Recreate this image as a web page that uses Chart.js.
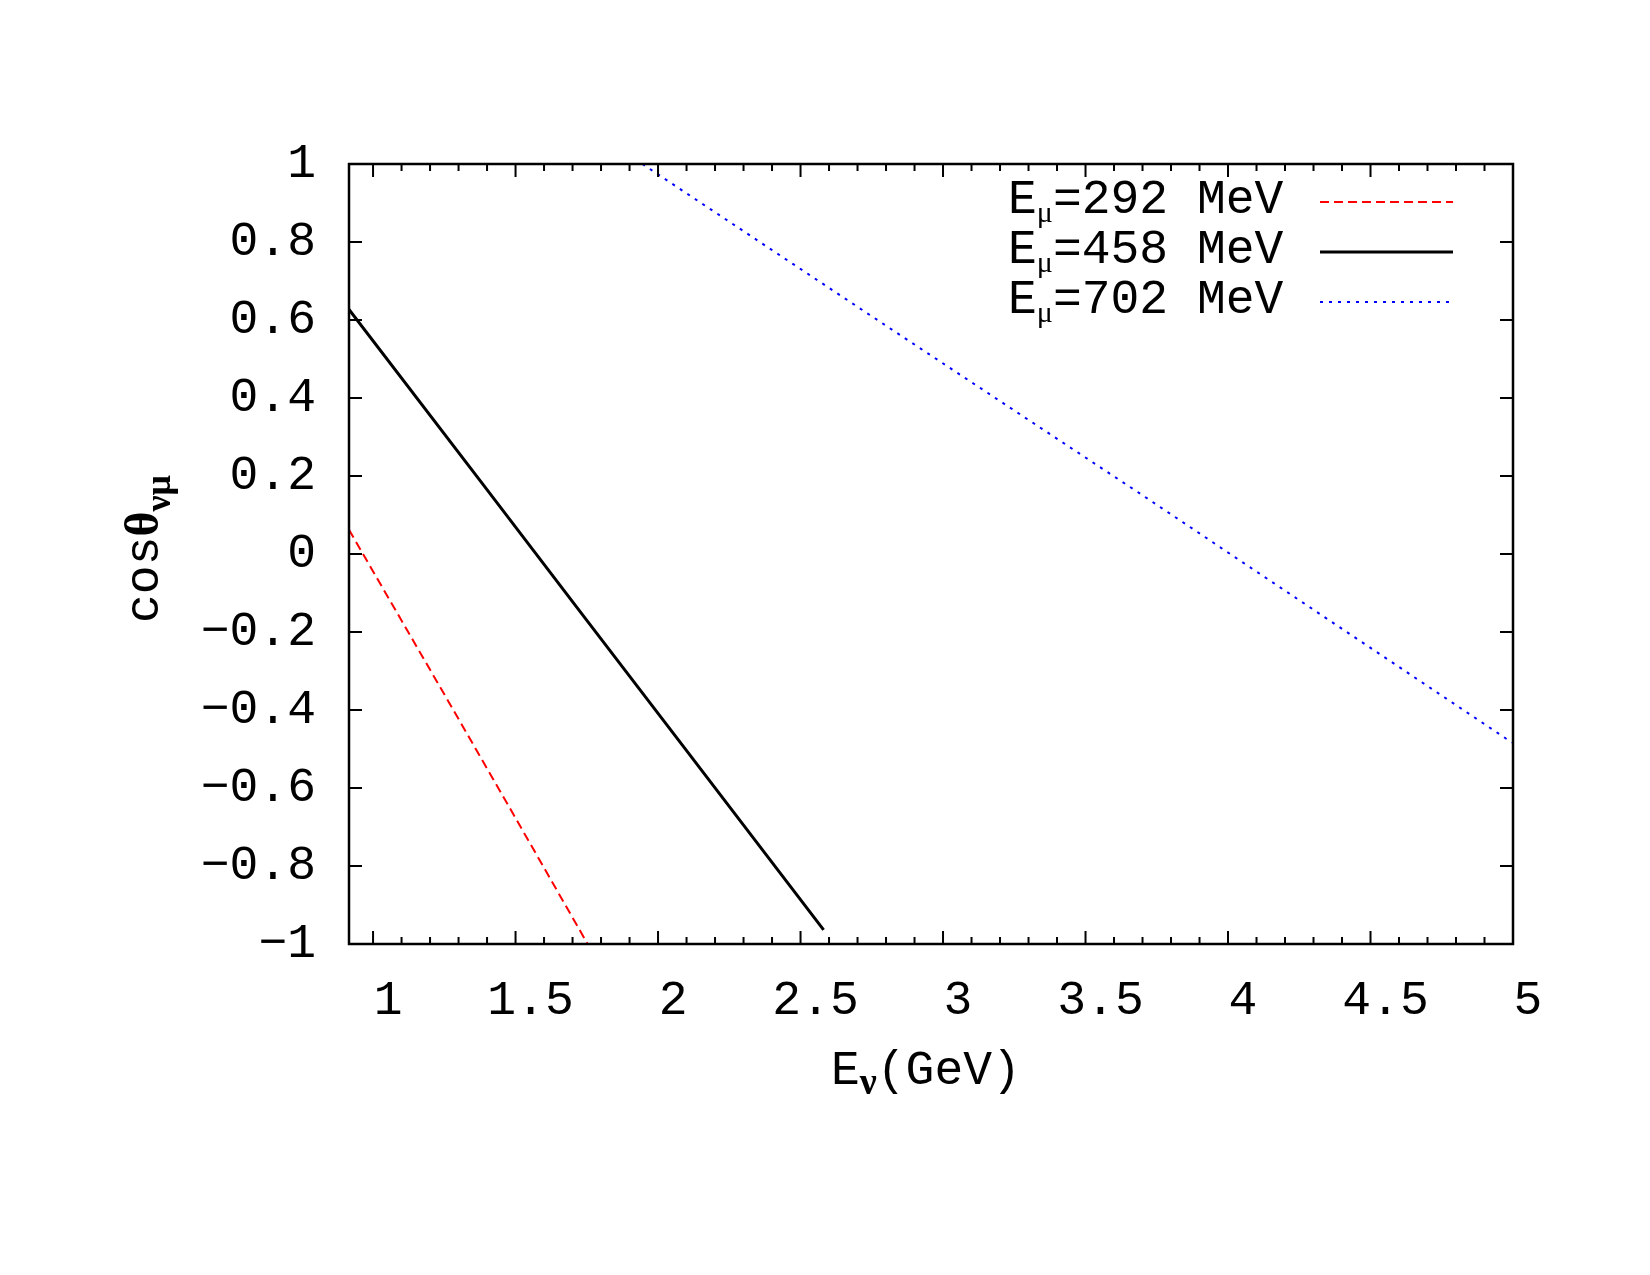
<!DOCTYPE html>
<html>
<head>
<meta charset="utf-8">
<script src="https://cdn.jsdelivr.net/npm/chart.js@4.4.1/dist/chart.umd.min.js"></script>
<style>
html, body { margin: 0; padding: 0; background: #fff; }
#wrap { width: 1650px; height: 1275px; }
</style>
</head>
<body>
<div id="wrap"><canvas id="kinChart" width="1650" height="1275"></canvas></div>
<script>
// cos(theta_numu) vs E_nu (GeV)
const e292 = [0.9156, 1.266, 1.5, 1.753];
const cos292 = [0.062, -0.380, -0.677, -1.0];
const e458 = [0.9156, 1.383, 1.734, 2.084, 2.581];
const cos458 = [0.627, 0.181, -0.155, -0.489, -0.964];
const e702 = [1.945, 2.813, 3.689, 4.979, 5.0];
const cos702 = [1.0, 0.579, 0.156, -0.475, -0.484];

const muonEnergies = ['292', '458', '702'];
const xTicks = [1, 1.5, 2, 2.5, 3, 3.5, 4, 4.5, 5];
const xMinorTicks = [1.1, 1.2, 1.3, 1.4, 1.6, 1.7, 1.8, 1.9, 2.1, 2.2, 2.3, 2.4, 2.6, 2.7, 2.8, 2.9,
  3.1, 3.2, 3.3, 3.4, 3.6, 3.7, 3.8, 3.9, 4.1, 4.2, 4.3, 4.4, 4.6, 4.7, 4.8, 4.9];
const yTicks = [-1, -0.8, -0.6, -0.4, -0.2, 0, 0.2, 0.4, 0.6, 0.8, 1];
const yTickLabels = ['−1', '−0.8', '−0.6', '−0.4', '−0.2', '0', '0.2', '0.4', '0.6', '0.8', '1'];

const MONO = '"Liberation Mono", "DejaVu Sans Mono", monospace';
const SERIF = '"Liberation Serif", "DejaVu Serif", serif';

function pts(xs, ys) {
    return xs.map((x, i) => ({ x: x, y: ys[i] }));
}

// text with a subscript part: main + sub + rest
function subText(ctx, x, y, main, mainFont, sub, subFont, drop, rest) {
    ctx.font = mainFont;
    ctx.fillText(main, x, y);
    x += ctx.measureText(main).width;
    ctx.font = subFont;
    ctx.fillText(sub, x, y + drop);
    x += ctx.measureText(sub).width;
    if (rest) {
        ctx.font = mainFont;
        ctx.fillText(rest, x, y);
        x += ctx.measureText(rest).width;
    }
    return x;
}

const gnuFrame = {
    id: 'gnuFrame',
    afterDatasetsDraw(chart) {
        const ctx = chart.ctx;
        const a = chart.chartArea;
        const xs = chart.scales.x, ys = chart.scales.y;
        ctx.save();
        ctx.strokeStyle = '#000';
        ctx.lineWidth = 2;
        ctx.beginPath();
        xTicks.forEach(v => {
            const px = xs.getPixelForValue(v);
            ctx.moveTo(px, a.bottom); ctx.lineTo(px, a.bottom - 13);
            ctx.moveTo(px, a.top); ctx.lineTo(px, a.top + 13);
        });
        xMinorTicks.forEach(v => {
            const px = xs.getPixelForValue(v);
            ctx.moveTo(px, a.bottom); ctx.lineTo(px, a.bottom - 7);
            ctx.moveTo(px, a.top); ctx.lineTo(px, a.top + 7);
        });
        yTicks.forEach(v => {
            const py = ys.getPixelForValue(v);
            ctx.moveTo(a.left, py); ctx.lineTo(a.left + 13, py);
            ctx.moveTo(a.right, py); ctx.lineTo(a.right - 13, py);
        });
        ctx.stroke();
        ctx.lineWidth = 2.5;
        ctx.strokeRect(a.left, a.top, a.right - a.left, a.bottom - a.top);

        // key
        ctx.fillStyle = '#000';
        ctx.textBaseline = 'alphabetic';
        ctx.textAlign = 'left';
        chart.data.datasets.forEach((ds, i) => {
            const yLine = 202 + i * 50;
            subText(ctx, 1008, yLine + 11, 'E', '48px ' + MONO, 'μ', '30px ' + SERIF, 9,
                '=' + muonEnergies[i] + ' MeV');
            ctx.save();
            ctx.strokeStyle = ds.borderColor;
            ctx.lineWidth = ds.borderWidth;
            ctx.setLineDash(ds.borderDash || []);
            ctx.beginPath();
            ctx.moveTo(1320, yLine);
            ctx.lineTo(1453, yLine);
            ctx.stroke();
            ctx.restore();
        });

        // x axis title
        subText(ctx, 831, 1084, 'E', '48px ' + MONO, 'ν', 'bold 38px ' + SERIF, 10, '(GeV)');

        // y axis title, rotated
        ctx.save();
        ctx.translate(158, 549);
        ctx.rotate(-Math.PI / 2);
        ctx.font = '48px ' + MONO;
        let w = ctx.measureText('cos').width;
        ctx.font = 'bold 48px ' + SERIF;
        w += ctx.measureText('θ').width;
        ctx.font = 'bold 36px ' + SERIF;
        w += ctx.measureText('νμ').width;
        let x0 = -w / 2;
        ctx.font = '48px ' + MONO;
        ctx.fillText('cos', x0, 0);
        x0 += ctx.measureText('cos').width;
        ctx.font = 'bold 48px ' + SERIF;
        ctx.fillText('θ', x0, 0);
        x0 += ctx.measureText('θ').width;
        ctx.font = 'bold 36px ' + SERIF;
        ctx.fillText('νμ', x0, 12);
        ctx.restore();
        ctx.restore();
    }
};

new Chart(document.getElementById('kinChart'), {
    type: 'scatter',
    data: {
        datasets: [
            {
                label: 'E_mu=292 MeV',
                data: pts(e292, cos292),
                borderColor: '#ff0000',
                borderWidth: 2,
                borderDash: [9, 5],
                showLine: true,
                pointRadius: 0
            },
            {
                label: 'E_mu=458 MeV',
                data: pts(e458, cos458),
                borderColor: '#000000',
                borderWidth: 3,
                showLine: true,
                pointRadius: 0
            },
            {
                label: 'E_mu=702 MeV',
                data: pts(e702, cos702),
                borderColor: '#0000ff',
                borderWidth: 2,
                borderDash: [3, 6],
                showLine: true,
                pointRadius: 0
            }
        ]
    },
    options: {
        responsive: false,
        devicePixelRatio: 1,
        animation: false,
        layout: { padding: { left: 0, right: 137, top: 164, bottom: 0 } },
        plugins: {
            legend: { display: false },
            tooltip: { enabled: false }
        },
        scales: {
            x: {
                type: 'linear',
                min: 0.9156,
                max: 5,
                grid: { display: false, drawTicks: false },
                border: { display: false },
                afterBuildTicks: s => { s.ticks = xTicks.map(v => ({ value: v })); },
                afterFit: s => { s.height = 331; },
                ticks: {
                    color: '#000',
                    font: { family: MONO, size: 48 },
                    padding: 28,
                    labelOffset: 15,
                    maxRotation: 0,
                    autoSkip: false,
                    callback: v => String(v)
                }
            },
            y: {
                type: 'linear',
                min: -1,
                max: 1,
                grid: { display: false, drawTicks: false },
                border: { display: false },
                afterBuildTicks: s => { s.ticks = yTicks.map(v => ({ value: v })); },
                afterFit: s => { s.width = 349; },
                ticks: {
                    color: '#000',
                    font: { family: MONO, size: 48 },
                    padding: 33,
                    autoSkip: false,
                    callback: (v, i) => yTickLabels[i]
                }
            }
        }
    },
    plugins: [gnuFrame]
});
</script>
</body>
</html>
